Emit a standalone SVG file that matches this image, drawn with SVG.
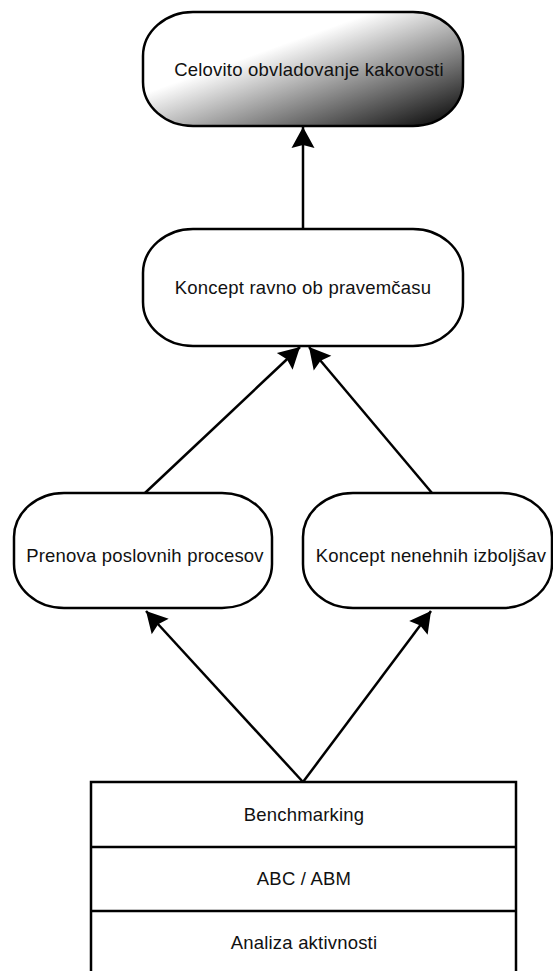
<svg xmlns="http://www.w3.org/2000/svg" width="553" height="971" viewBox="0 0 553 971">
  <style>
    .node { fill: #ffffff; stroke: #000000; stroke-width: 2.5; }
    .lbl { font-family: "Liberation Sans", Arial, sans-serif; font-size: 18.5px; fill: #111111; text-anchor: middle; letter-spacing: 0.2px; }
    .edge { stroke: #000000; stroke-width: 2.5; fill: none; marker-end: url(#arrow); }
  </style>
  <defs>
    <linearGradient id="grad" x1="0" y1="0" x2="1" y2="1">
      <stop offset="0" stop-color="#ffffff"/>
      <stop offset="0.36" stop-color="#ffffff"/>
      <stop offset="1" stop-color="#000000"/>
    </linearGradient>
    <marker id="arrow" markerUnits="userSpaceOnUse" markerWidth="26" markerHeight="26" viewBox="-22 -13 26 26" refX="0" refY="0" orient="auto">
      <path d="M0,0 L-21,-11.5 L-18,0 L-21,11.5 Z" fill="#000000"/>
    </marker>
  </defs>

  <g id="connectors">
    <line class="edge" x1="303" y1="229" x2="303" y2="127"/>
    <line class="edge" x1="145" y1="493" x2="300" y2="347"/>
    <line class="edge" x1="432" y1="493" x2="309" y2="347"/>
    <line class="edge" x1="303" y1="782" x2="146" y2="611"/>
    <line class="edge" x1="303" y1="782" x2="431" y2="611"/>
  </g>

  <g id="node-celovito">
    <rect x="143" y="12" width="320" height="114" rx="50" ry="44" fill="url(#grad)" stroke="#000000" stroke-width="2.5"/>
    <text class="lbl" x="309" y="76">Celovito obvladovanje kakovosti</text>
  </g>

  <g id="node-koncept-ravno">
    <rect class="node" x="143" y="229" width="320" height="117" rx="50" ry="44"/>
    <text class="lbl" x="303" y="294">Koncept ravno ob pravemčasu</text>
  </g>

  <g id="node-prenova">
    <rect class="node" x="14" y="493" width="258" height="115" rx="50" ry="44"/>
    <text class="lbl" x="145" y="562">Prenova poslovnih procesov</text>
  </g>

  <g id="node-izboljsav">
    <rect class="node" x="303" y="493" width="249" height="115" rx="50" ry="44"/>
    <text class="lbl" x="431" y="562">Koncept nenehnih izboljšav</text>
  </g>

  <g id="node-stack">
    <rect class="node" x="91" y="782" width="425" height="200"/>
    <line x1="91" y1="847" x2="516" y2="847" stroke="#000000" stroke-width="2.5"/>
    <line x1="91" y1="911" x2="516" y2="911" stroke="#000000" stroke-width="2.5"/>
    <text class="lbl" x="304" y="821">Benchmarking</text>
    <text class="lbl" x="304" y="885">ABC / ABM</text>
    <text class="lbl" x="304" y="949">Analiza aktivnosti</text>
  </g>
</svg>
